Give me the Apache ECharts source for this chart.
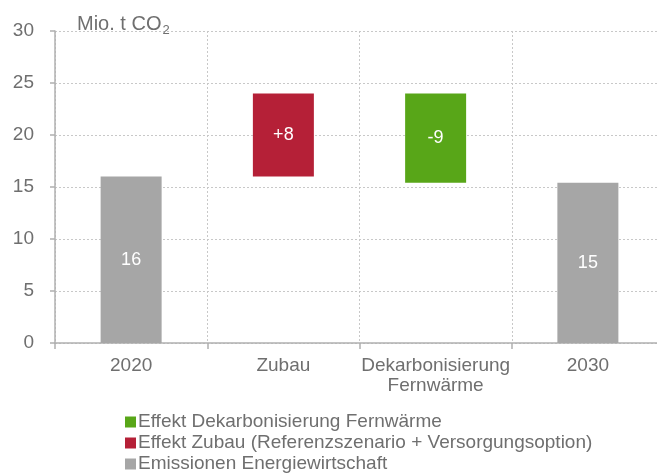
<!DOCTYPE html>
<html>
<head>
<meta charset="utf-8">
<script src="https://cdn.jsdelivr.net/npm/echarts@6/dist/echarts.min.js"></script>
<style>html,body{margin:0;padding:0;background:#fff;overflow:hidden;width:657px;height:473px;}#c{width:665px;height:473px;}</style>
</head>
<body>
<div id="c"></div>
<script>
const categories = ['2020', 'Zubau', 'Dekarbonisierung\nFernwärme', '2030'];
const baseValues = [0, 16, 15.4, 0];
const emissionen = [16, null, null, 15.4];
const zubau = [null, 8, null, null];
const dekarb = [null, null, 8.6, null];
const labelTexts = ['16', '+8', '-9', '15'];
const yTicks = [0, 5, 10, 15, 20, 25, 30];
const seriesNames = ['Effekt Dekarbonisierung Fernwärme', 'Effekt Zubau (Referenzszenario + Versorgungsoption)', 'Emissionen Energiewirtschaft'];

const FONT = 'Liberation Sans, Arial, sans-serif';
const TXT = '#6f6f6f';
const FS = 19;
const chart = echarts.init(document.getElementById('c'), null, {renderer: 'canvas'});
const lbl = {
  show: true, position: 'inside', color: '#fff', fontSize: 18, fontFamily: FONT,
  formatter: p => labelTexts[p.dataIndex]
};
const legendTops = [412, 433, 454];
chart.setOption({
  animation: false,
  backgroundColor: '#fff',
  title: {
    text: 'Mio. t CO{sub|2}', left: 72, top: 6,
    textStyle: {
      fontSize: 20, fontWeight: 'normal', color: TXT, fontFamily: FONT,
      rich: {sub: {fontSize: 13, color: TXT, fontFamily: FONT, verticalAlign: 'bottom', padding: [13, 0, 0, 1]}}
    }
  },
  legend: seriesNames.map((n, i) => ({
    orient: 'vertical', left: 125, top: legendTops[i], padding: 0,
    itemWidth: 11, itemHeight: 11, icon: 'rect',
    data: [n],
    textStyle: {fontSize: FS, lineHeight: 20, color: TXT, fontFamily: FONT, padding: [0, 0, 0, -3]}
  })),
  grid: {left: 55, right: 1, top: 31, bottom: 130, containLabel: false},
  xAxis: {
    type: 'category', data: categories,
    axisLine: {show: true, lineStyle: {color: '#b0b0b0', width: 1.5}},
    axisTick: {show: true, length: 6, lineStyle: {color: '#b0b0b0', width: 1.5}},
    axisLabel: {fontSize: FS, color: TXT, fontFamily: FONT, margin: 13, lineHeight: 20, interval: 0},
    splitLine: {show: true, lineStyle: {color: '#c8c8c8', type: [2, 2], width: 1}}
  },
  yAxis: {
    type: 'value', min: 0, max: 30, interval: 5,
    axisLine: {show: true, lineStyle: {color: '#b0b0b0', width: 1.5}},
    axisTick: {show: true, length: 5, lineStyle: {color: '#b0b0b0', width: 1.5}},
    axisLabel: {fontSize: FS, color: TXT, fontFamily: FONT, margin: 21,
      formatter: v => yTicks.includes(v) ? String(v) : ''},
    splitLine: {show: true, lineStyle: {color: '#c8c8c8', type: [2, 2], width: 1}}
  },
  series: [
    {name: 'base', type: 'bar', stack: 'w', barWidth: 61, data: baseValues,
      itemStyle: {color: 'transparent'}, silent: true},
    {name: seriesNames[2], type: 'bar', stack: 'w', barWidth: 61, data: emissionen,
      itemStyle: {color: '#a6a6a6'}, label: lbl},
    {name: seriesNames[1], type: 'bar', stack: 'w', barWidth: 61, data: zubau,
      itemStyle: {color: '#b52037'}, label: lbl},
    {name: seriesNames[0], type: 'bar', stack: 'w', barWidth: 61, data: dekarb,
      itemStyle: {color: '#58a618'}, label: lbl}
  ]
});
</script>
</body>
</html>
